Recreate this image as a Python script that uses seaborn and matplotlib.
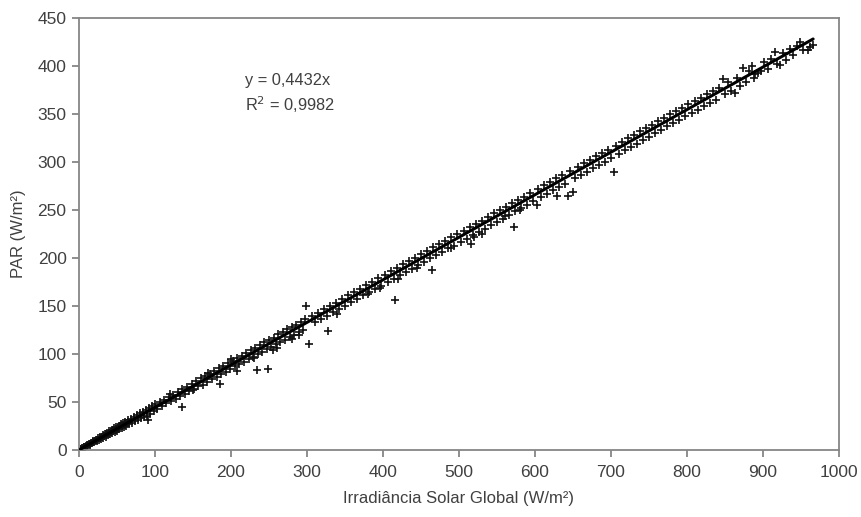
import numpy as np
import pandas as pd
import matplotlib
matplotlib.use("Agg")
import matplotlib.pyplot as plt
import seaborn as sns

# irradiância global (W/m²) e PAR (W/m²)
irr_baixa = [2, 3, 4, 5, 6, 7, 8, 9, 10, 11, 12, 13, 14, 15, 16, 17, 18, 19, 20, 21,
             22, 23, 24, 25, 26, 27, 28, 29, 30, 31, 32, 33, 34, 35, 36, 37, 38, 39, 40, 41,
             42, 43, 44, 45, 46, 47, 48, 49, 50, 51, 52, 53, 54, 55, 56, 57, 58, 59, 60, 61,
             62, 63, 64, 65, 66, 68, 70, 72, 74, 76, 78, 80, 82, 84, 86, 88, 90, 91, 92, 94,
             96, 98, 100]
par_baixa = [1.0, 1.3, 1.6, 2.5, 2.7, 3.4, 3.2, 4.0, 4.9, 4.5, 5.3, 6.4, 5.7, 6.7, 7.8, 6.8, 8.0, 9.2, 8.1, 9.3,
             10.9, 9.4, 10.7, 12.3, 10.4, 12.0, 13.6, 11.8, 13.5, 15.2, 12.9, 14.8, 16.8, 14.0, 16.0, 18.1, 15.2, 17.5, 19.6, 16.5,
             18.6, 21.0, 17.6, 20.0, 22.5, 18.9, 21.0, 23.8, 20.3, 22.8, 25.1, 21.4, 24.5, 26.6, 22.5, 25.0, 28.0, 24.0, 26.9, 29.4,
             25.3, 28.0, 30.8, 29.5, 26.9, 32.6, 28.4, 34.2, 30.1, 36.0, 31.5, 38.2, 33.0, 40.1, 34.6, 41.8, 35.8, 31.5, 44.0, 38.0,
             45.6, 40.2, 47.5]

irr_media = [103, 106, 109, 112, 115, 118, 120, 121, 124, 127, 130, 133, 135, 136, 139, 142, 145, 148, 150, 151,
             154, 157, 160, 163, 166, 169, 170, 172, 175, 178, 181, 184, 185, 187, 190, 193, 196, 199, 200, 202,
             205, 208, 208, 211, 214, 217, 220, 223, 226, 229, 230, 232, 234, 235, 238, 241, 244, 247, 249, 250,
             253, 255, 256, 259, 260, 262, 265, 268, 271, 274, 277, 280, 280, 283, 286, 289, 290, 292, 295, 298,
             299, 303]
par_media = [43.2, 50.1, 46.0, 52.0, 48.7, 55.5, 58.0, 51.2, 57.8, 53.5, 60.4, 56.0, 45.0, 63.1, 58.2, 66.0, 61.0, 68.4, 62.0, 63.5,
             71.8, 66.2, 74.5, 68.0, 77.0, 71.0, 80.0, 79.5, 73.8, 82.0, 76.0, 85.0, 69.0, 79.0, 88.0, 81.5, 90.5, 84.0, 95.0, 92.8,
             87.0, 82.0, 95.5, 89.6, 98.0, 92.0, 101.2, 95.0, 104.0, 97.0, 95.5, 106.5, 83.0, 99.5, 109.0, 102.0, 112.5, 105.0, 84.5, 114.2,
             107.5, 104.0, 117.0, 110.0, 106.0, 120.5, 112.0, 123.0, 114.5, 126.0, 117.5, 128.0, 116.0, 120.0, 130.5, 122.5, 120.0, 133.0, 125.5, 136.0,
             150.0, 110.0]

irr_alta = [306, 310, 314, 318, 322, 326, 328, 330, 334, 338, 340, 342, 346, 350, 354, 358, 362, 366, 370, 374,
            378, 380, 382, 386, 390, 394, 396, 398, 402, 406, 410, 414, 416, 418, 420, 422, 426, 430, 434, 438,
            442, 445, 446, 450, 454, 458, 462, 464, 466, 470, 474, 478, 482, 486, 490, 490, 494, 498, 502, 506,
            510, 514, 516, 518, 520, 522, 526, 530, 530, 534, 538, 542, 546, 550, 554, 558, 560, 562, 566, 570,
            572, 574, 578, 580, 582, 586, 590, 594, 598]
par_alta = [139.5, 133.0, 143.0, 136.5, 146.8, 140.0, 124.0, 150.0, 143.5, 153.6, 142.0, 147.0, 157.5, 150.5, 161.0, 154.0, 165.0, 157.5, 168.0, 161.0,
            171.5, 162.0, 164.5, 175.0, 168.0, 179.0, 169.0, 171.0, 182.5, 175.0, 186.0, 178.0, 156.0, 190.0, 178.0, 182.0, 193.5, 185.5, 197.0, 189.0,
            200.5, 190.0, 192.5, 204.0, 196.0, 207.5, 199.5, 187.0, 211.0, 203.0, 214.5, 206.5, 218.0, 210.0, 221.5, 210.0, 213.0, 225.0, 216.5, 228.5,
            220.0, 232.0, 215.0, 224.0, 222.0, 235.5, 227.0, 239.0, 225.0, 230.5, 242.5, 234.0, 246.5, 238.0, 250.0, 241.0, 244.0, 253.0, 245.0, 257.0,
            232.0, 248.5, 260.5, 250.0, 252.0, 264.0, 255.5, 267.5, 259.0]

irr_pico = [602, 604, 608, 612, 616, 620, 624, 628, 629, 632, 636, 640, 644, 646, 650, 652, 656, 660, 664, 668,
            672, 676, 680, 684, 688, 692, 696, 700, 704, 706, 710, 714, 718, 722, 726, 730, 734, 738, 742, 746,
            750, 754, 758, 762, 766, 770, 774, 778, 782, 786, 790, 794, 798, 802, 806, 810, 814, 818, 822, 826,
            830, 834, 838, 842, 847, 850, 854, 858, 863, 866, 870, 874, 878, 882, 885, 888, 890, 894, 898, 902,
            906, 910, 916, 918, 922, 926, 930, 935, 940, 945, 949, 953, 959, 962, 966]
par_pico = [255.0, 272.0, 263.5, 276.0, 267.0, 279.5, 270.5, 283.0, 265.0, 274.0, 286.5, 277.5, 265.0, 290.5, 269.0, 283.0, 295.0, 286.0, 299.0, 290.0,
            302.5, 293.5, 306.0, 297.0, 309.5, 300.5, 313.0, 304.5, 290.0, 317.0, 308.5, 321.0, 312.0, 324.5, 315.5, 328.0, 319.0, 332.0, 322.5, 335.5,
            326.0, 339.0, 330.0, 342.5, 333.0, 346.0, 337.0, 349.5, 340.5, 353.0, 344.0, 356.5, 347.5, 360.0, 351.0, 363.5, 354.5, 367.0, 358.0, 370.5,
            361.5, 374.0, 365.0, 377.5, 386.0, 371.0, 383.0, 374.0, 372.0, 388.0, 379.0, 398.0, 383.0, 395.0, 400.0, 387.0, 392.0, 393.0, 395.0, 404.0,
            397.0, 407.0, 415.0, 402.0, 401.0, 414.0, 406.0, 418.0, 411.0, 421.0, 425.0, 417.0, 417.0, 420.0, 422.0]

# linha de tendência (y = 0,4432x)
inclinacao = 0.4432
r2 = 0.9982
tendencia_x = [0, 966]

dados = pd.DataFrame({
    "irr": irr_baixa + irr_media + irr_alta + irr_pico,
    "par": par_baixa + par_media + par_alta + par_pico,
})
linha = pd.DataFrame({"irr": tendencia_x, "par": [inclinacao * v for v in tendencia_x]})

sns.set_style("white")
plt.rcParams["font.family"] = ["Liberation Sans", "DejaVu Sans"]

cinza = "#868686"
texto = "#404040"

fig = plt.figure(figsize=(8.61, 5.17), dpi=100)
ax = fig.add_axes([0.0918, 0.1296, 0.8826, 0.8356])

sns.scatterplot(data=dados, x="irr", y="par", marker="+", s=36, color="#111111",
                linewidth=1.2, ax=ax, zorder=2)
sns.lineplot(data=linha, x="irr", y="par", color="black", linewidth=2.2, ax=ax, zorder=3)

ax.set_xlim(0, 1000)
ax.set_ylim(0, 450)
ax.set_xticks(range(0, 1001, 100))
ax.set_yticks(range(0, 451, 50))

for s in ax.spines.values():
    s.set_color(cinza)
    s.set_linewidth(1.3)

ax.tick_params(axis="both", which="major", bottom=True, left=True, direction="out",
               length=5, width=1.3, color=cinza, labelcolor=texto, labelsize=12.5, pad=4)
ax.tick_params(axis="x", pad=6)

ax.set_xlabel("Irradiância Solar Global (W/m²)", color=texto, fontsize=12, labelpad=8)
ax.set_ylabel("PAR (W/m²)", color=texto, fontsize=12, labelpad=8)

ax.text(218, 385, "y = 0,4432x", color=texto, fontsize=11.8, ha="left", va="center")
ax.text(218, 360, "R$^2$ = 0,9982", color=texto, fontsize=11.8, ha="left", va="center")

fig.savefig("out.png", dpi=100)
